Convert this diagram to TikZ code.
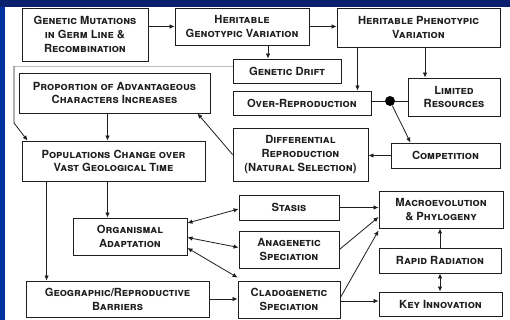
\documentclass[tikz,border=0pt]{standalone}
\usepackage{fontspec}
\setmainfont{TeX Gyre Heros}
\usepackage{tikz}
\usetikzlibrary{arrows.meta}

\definecolor{bandColor}{RGB}{12,32,112}
\definecolor{stripColor}{RGB}{0,50,160}
\definecolor{lineColor}{RGB}{30,30,30}

\tikzset{
  box/.style={draw=lineColor,line width=0.9pt,fill=white,align=center,inner sep=0pt,
    font=\fontsize{11.2}{13.8}\selectfont\bfseries\scshape,text=lineColor},
  link/.style={draw=lineColor,line width=0.8pt},
  arr/.style={link,-{Latex[length=5pt,width=4.5pt]}},
  darr/.style={link,{Latex[length=5pt,width=4.5pt]}-{Latex[length=5pt,width=4.5pt]}},
  joint/.style={circle,fill=black,inner sep=0pt,minimum size=10pt}
}

\begin{document}
\begin{tikzpicture}[x=1pt,y=-1pt]
% background
\path[use as bounding box,fill=stripColor] (0,0) rectangle (510,320);
\fill[bandColor] (0,0) rectangle (510,7);
\fill[white] (5,7) rectangle (510,320);

% top row
\node[box,minimum width=126pt,minimum height=53pt] (gm) at (85,34.5) {Genetic Mutations\\in Germ Line \&\\Recombination};
\node[box,minimum width=134pt,minimum height=37pt] (hgv) at (242,26.5) {Heritable\\Genotypic Variation};
\node[box,minimum width=163pt,minimum height=39pt] (hpv) at (418.5,27.5) {Heritable Phenotypic\\Variation};

% selection block
\node[box,minimum width=108pt,minimum height=24pt] (gd) at (287,71) {Genetic Drift};
\node[box,minimum width=138pt,minimum height=24pt] (orp) at (302,103) {Over-Reproduction};
\node[box,minimum width=92pt,minimum height=38pt] (lr) at (454,97) {Limited\\Resources};
\node[joint] (jn) at (390,101) {};
\node[box,minimum width=109pt,minimum height=25pt] (comp) at (445.5,155.5) {Competition};
\node[box,minimum width=135pt,minimum height=53pt] (dr) at (300.5,154.5) {Differential\\Reproduction\\(Natural Selection)};
\node[box,minimum width=191pt,minimum height=40pt] (pac) at (114.5,93) {Proportion of Advantageous\\Characters Increases};
\node[box,minimum width=183pt,minimum height=40pt] (pop) at (113.5,161) {Populations Change over\\Vast Geological Time};

% lower block
\node[box,minimum width=114pt,minimum height=37pt] (oa) at (130,236.5) {Organismal\\Adaptation};
\node[box,minimum width=183pt,minimum height=36pt] (grb) at (117.5,299) {Geographic/Reproductive\\Barriers};
\node[box,minimum width=100pt,minimum height=25pt] (st) at (289,207.5) {Stasis};
\node[box,minimum width=100pt,minimum height=37pt] (as) at (289,249.5) {Anagenetic\\Speciation};
\node[box,minimum width=102pt,minimum height=37pt] (cs) at (289,299.5) {Cladogenetic\\Speciation};
\node[box,minimum width=124pt,minimum height=37pt] (mp) at (441,209.5) {Macroevolution\\\& Phylogeny};
\node[box,minimum width=122pt,minimum height=25pt] (rr) at (440,260.5) {Rapid Radiation};
\node[box,minimum width=123pt,minimum height=24pt] (ki) at (440.5,304) {Key Innovation};

% connectors
\coordinate (lt) at (14,66);
\draw[draw=black!25,line width=0.5pt] (lt) -- (gd.west |- lt);
\draw[arr] (lt) -- (14,123) -- ([xshift=6pt]pop.north west);

\draw[arr] (gm.east |- hgv.west) -- (hgv.west);
\draw[arr] (hgv.east) -- (hgv.east -| hpv.west);
\draw[arr] ([xshift=26pt]hgv.south) -- ([xshift=26pt]hgv.south |- gd.north);
\draw[arr] ([xshift=-14pt]orp.north east |- hpv.south) -- ([xshift=-14pt]orp.north east);
\draw[arr] ([xshift=-29pt]lr.north |- hpv.south) -- ([xshift=-29pt]lr.north);
\draw[link] (orp.east |- jn) -- (jn) -- (lr.west |- jn);
\draw[arr] (jn) -- ([xshift=-35pt]comp.north);
\draw[arr] (comp.west) -- (dr.east |- comp.west);
\draw[arr] (dr.west) -- ([xshift=-13pt]pac.south east);
\draw[arr] ([xshift=-7pt]pac.south) -- ([xshift=-7pt]pac.south |- pop.north);
\draw[arr] ([xshift=-6pt]pop.south) -- ([xshift=-6pt]pop.south |- oa.north);
\draw[arr] ([xshift=25pt]pop.south west) -- ([xshift=25pt]pop.south west |- grb.north);
\draw[arr] (grb.east) -- (cs.west |- grb.east);

\draw[darr] ([yshift=13.5pt]oa.east) -- ([yshift=-1.5pt]st.west);
\draw[darr] ([yshift=-1pt]oa.east) -- ([yshift=2pt]as.west);
\draw[darr] ([yshift=-11.5pt]oa.east) -- ([yshift=3pt]cs.north west);

\draw[arr] (st.east) -- (mp.west |- st.east);
\draw[arr] (as.east) -- ([yshift=-7.5pt]mp.west);
\draw[arr] ([yshift=2pt]cs.east) -- ([yshift=-2pt]mp.south west);
\draw[arr] ([yshift=-1.5pt]cs.east) -- ([yshift=-1.5pt]cs.east -| ki.west);
\draw[arr] (rr.north) -- (rr.north |- mp.south);
\draw[darr] (rr.south) -- (rr.south |- ki.north);
\end{tikzpicture}
\end{document}
